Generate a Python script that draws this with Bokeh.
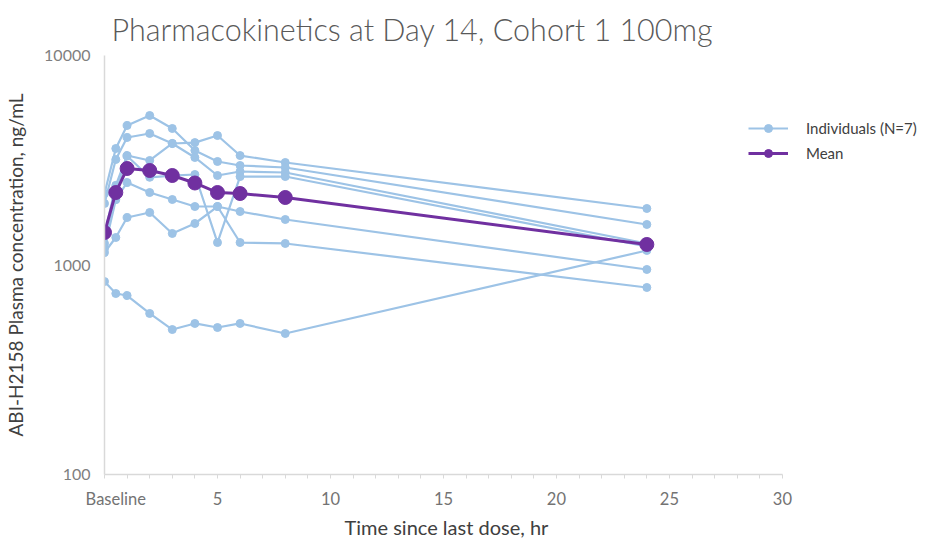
from bokeh.plotting import figure
from bokeh.models import Range1d, FixedTicker, Legend, LegendItem, NumeralTickFormatter, Title
from bokeh.embed import file_html
from bokeh.resources import INLINE

# ---- data (hours since last dose, ng/mL) ----
times = [0, 0.5, 1, 2, 3, 4, 5, 6, 8, 24]

subject_1 = [1966, 3189, 4061, 4244, 3802, 3840, 4150, 3330, 3085, 1861]
subject_2 = [2194, 3598, 4634, 5171, 4484, 3520, 3120, 2985, 2920, 1561]
subject_3 = [1396, 2400, 3331, 3154, 3802, 3260, 2674, 2795, 2764, 1267]
subject_4 = [1267, 2200, 3312, 2622, 2670, 2704, 1280, 2642, 2645, 1226]
subject_5 = [1199, 2050, 2476, 2218, 2054, 1902, 1902, 1800, 1649, 952]
subject_6 = [1147, 1353, 1685, 1781, 1414, 1578, 1902, 1280, 1267, 781]
subject_7 = [834, 731, 715, 587, 492, 526, 503, 526, 471, 1173]
individuals = [subject_1, subject_2, subject_3, subject_4, subject_5, subject_6, subject_7]

mean_conc = [1429, 2218, 2888, 2825, 2674, 2463, 2218, 2194, 2100, 1253]

baseline_pos = 0.5
x_ticks = [baseline_pos, 5, 10, 15, 20, 25, 30]
x_minor = list(range(0, 31))
x_labels = {baseline_pos: "Baseline"}
y_ticks = [100, 1000, 10000]

title_text = "Pharmacokinetics at Day 14, Cohort 1 100mg"
x_title = "Time since last dose, hr"
y_title = "ABI-H2158 Plasma concentration, ng/mL"
legend_individuals = "Individuals (N=7)"
legend_mean = "Mean"

IND_COLOR = "#9DC3E6"
MEAN_COLOR = "#7030A0"
FONT = "Lato"

p = figure(width=941, height=542, output_backend="svg", toolbar_location=None,
           x_range=Range1d(0, 37.04), y_range=Range1d(100, 10000), y_axis_type="log",
           min_border_left=104, min_border_right=0, min_border_top=55,
           min_border_bottom=68)

p.title.text = title_text
p.title.text_font = "Lato Light, Lato"
p.title.text_font_size = "30.5px"
p.title.text_font_style = "normal"
p.title.text_color = "#595959"
p.title.align = "left"
p.title.vertical_align = "top"
p.title.offset = 7
p.title.standoff = 14

p.xgrid.visible = False
p.ygrid.visible = False
p.outline_line_color = None
p.background_fill_color = "white"
p.border_fill_color = "white"

# x axis
xa = p.xaxis[0]
xa.bounds = (0, 30)
xa.ticker = FixedTicker(ticks=x_ticks, minor_ticks=x_minor)
xa.major_label_overrides = x_labels
xa.axis_line_color = "#D9D9D9"
xa.axis_line_width = 1.5
xa.major_tick_line_color = None
xa.minor_tick_line_color = "#D9D9D9"
xa.major_tick_in = 0
xa.major_tick_out = 0
xa.minor_tick_in = 0
xa.minor_tick_out = 4
xa.major_label_text_font = FONT
xa.major_label_text_font_size = "16.5px"
xa.major_label_text_color = "#737373"
xa.major_label_standoff = 10

# x axis title, under the 0-30 span of the axis
p.add_layout(Title(text=x_title, align="left", offset=240, text_font=FONT,
                   text_font_size="20px", text_font_style="normal",
                   text_color="#404040", standoff=2), "below")

# y axis
ya = p.yaxis[0]
ya.ticker = FixedTicker(ticks=y_ticks, minor_ticks=[])
ya.formatter = NumeralTickFormatter(format="0")
ya.axis_line_color = "#D9D9D9"
ya.axis_line_width = 1.5
ya.major_tick_line_color = None
ya.minor_tick_line_color = None
ya.major_tick_in = 0
ya.major_tick_out = 0
ya.major_label_text_font = FONT
ya.major_label_text_font_size = "16px"
ya.major_label_text_color = "#7F7F7F"
ya.major_label_standoff = 14
ya.axis_label = y_title
ya.axis_label_text_font = FONT
ya.axis_label_text_font_size = "19px"
ya.axis_label_text_font_style = "normal"
ya.axis_label_text_color = "#404040"
ya.axis_label_standoff = 14

first_line = first_dot = None
for subj in individuals:
    lr = p.line(times, subj, line_color=IND_COLOR, line_width=2.2)
    cr = p.scatter(times, subj, size=8, fill_color=IND_COLOR, line_color=IND_COLOR)
    if first_line is None:
        first_line, first_dot = lr, cr

mean_line = p.line(times, mean_conc, line_color=MEAN_COLOR, line_width=3)
mean_dot = p.scatter(times, mean_conc, size=14, fill_color=MEAN_COLOR, line_color=MEAN_COLOR)

legend = Legend(items=[LegendItem(label=legend_individuals, renderers=[first_line, first_dot]),
                       LegendItem(label=legend_mean, renderers=[mean_line, mean_dot])],
                location=(644, 311), glyph_width=40, glyph_height=20, label_height=20,
                spacing=5, padding=0, label_standoff=18,
                label_text_font=FONT, label_text_font_size="15px", label_text_color="#404040",
                border_line_color=None, background_fill_alpha=0)
p.add_layout(legend)

open("out.html", "w").write(file_html(p, INLINE))
